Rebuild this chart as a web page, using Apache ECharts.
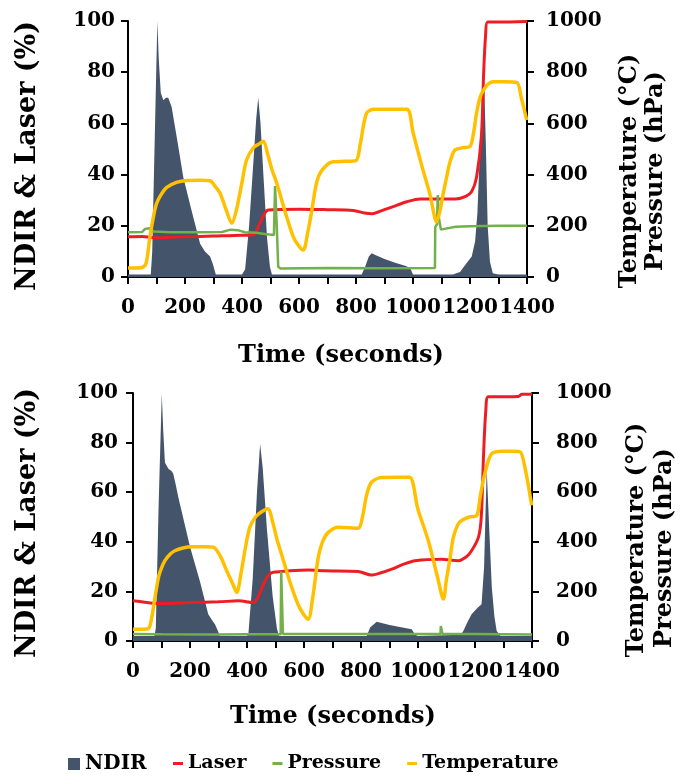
<!DOCTYPE html>
<html>
<head>
<meta charset="utf-8">
<script src="https://cdn.jsdelivr.net/npm/echarts@6/dist/echarts.min.js"></script>
<style>
html,body{margin:0;padding:0;background:#fff;}
#chart{width:686px;height:784px;}
</style>
</head>
<body>
<div id="chart"></div>
<script>
// ---------- data (time in seconds, value) ----------
const xTicks = [0, 200, 400, 600, 800, 1000, 1200, 1400];
const seriesNames = ['NDIR', 'Laser', 'Pressure', 'Temperature'];

// Top chart
const ndirTop = [[0,1],[50,1],[80,1],[85,10],[95,60],[103,100],[108,85],[115,72],[124,69],[133,70],[141,70],[153,66.5],[175,52],[194,39],[223,26],[253,13],[270,10],[288,8],[298,5],[308,1],[400,1],[411,3],[425,20],[440,45],[450,62],[457,70],[465,60],[475,40],[488,15],[498,4],[505,1],[820,1],[832,4],[845,8],[855,9.3],[870,8.5],[900,7],[940,5.5],[975,4.3],[990,3.5],[1000,1],[1140,1],[1165,2],[1185,5],[1206,8],[1218,14],[1226,25],[1235,50],[1244,72],[1250,75],[1256,50],[1262,20],[1270,6],[1280,1.5],[1300,1],[1400,1]];
const laserTop = [[0,15.7],[50,15.8],[100,15.3],[150,15.5],[200,15.7],[300,16],[400,16.3],[440,16.6],[463,21],[480,25],[492,26.2],[600,26.5],[700,26.3],[790,26],[830,25],[855,24.7],[880,25.5],[930,27.5],[978,29.4],[1025,30.5],[1100,30.5],[1150,30.5],[1185,31.5],[1206,33.4],[1223,39],[1240,55],[1248,80],[1255,95],[1262,99.6],[1300,99.6],[1400,99.8]];
const pressureTop = [[0,175],[50,176],[60,188],[75,190],[90,178],[150,175],[250,175],[330,176],[360,185],[385,183],[410,175],[450,173],[480,168],[512,164],[516,355],[522,200],[527,40],[535,33],[700,35],[900,34],[1077,35],[1078,195],[1084,205],[1087,320],[1091,230],[1098,185],[1110,188],[1150,196],[1200,198],[1300,200],[1400,200]];
const tempTop = [[0,35],[30,35],[55,40],[65,60],[77,157],[90,240],[100,286],[115,320],[136,350],[170,370],[206,377],[250,378],[288,376],[305,355],[323,327],[345,260],[364,210],[380,260],[400,370],[416,457],[440,505],[460,520],[475,530],[490,480],[505,420],[522,366],[550,260],[580,157],[600,120],[615,105],[630,170],[645,260],[660,360],[674,406],[700,440],[720,450],[760,452],[800,455],[815,520],[837,640],[862,655],[900,655],[978,655],[1000,565],[1030,438],[1060,320],[1083,216],[1095,260],[1105,320],[1118,390],[1130,450],[1147,496],[1175,505],[1200,510],[1212,560],[1223,640],[1235,700],[1247,730],[1265,755],[1282,763],[1320,763],[1364,760],[1380,700],[1399,613]];

// Bottom chart
const ndirBottom = [[0,2],[75,2],[80,5],[90,55],[101,99.6],[106,85],[112,72],[124,69.5],[135,68.5],[141,67.5],[150,63],[159,58],[200,38],[235,24],[264,10.8],[280,8],[288,6.7],[298,4],[305,2],[400,2],[405,3],[420,25],[435,60],[446,79.4],[455,70],[470,45],[490,18],[505,5],[512,2],[820,2],[832,5.4],[855,7.8],[900,6.5],[950,5.3],[978,4.7],[990,2.5],[1000,2],[1150,2.5],[1159,4],[1175,8],[1188,10.8],[1210,13.5],[1223,14.8],[1232,30],[1241,69.5],[1250,45],[1259,21.6],[1268,10],[1276,4],[1290,2],[1400,2]];
const laserBottom = [[0,16.2],[50,15.5],[100,15.1],[200,15.5],[300,15.8],[370,16.2],[422,15.5],[440,18],[463,24.3],[480,27],[492,27.7],[550,28.3],[615,28.6],[674,28.3],[790,28],[837,26.6],[870,27.5],[908,29],[950,31],[990,32.4],[1083,33],[1141,32.4],[1170,34],[1188,36.4],[1212,41.8],[1222,50],[1230,75],[1238,93],[1247,98.5],[1300,98.5],[1352,98.6],[1365,99.5],[1400,99.5]];
const pressureBottom = [[0,28],[100,27],[300,26],[400,27],[518,27],[520,280],[524,280],[526,28],[600,28],[800,28],[1079,28],[1080,60],[1084,60],[1086,28],[1200,28],[1400,26]];
const tempBottom = [[0,47],[30,47],[54,50],[65,90],[77,175],[90,260],[100,295],[112,324],[130,350],[147,364],[175,375],[206,380],[250,380],[282,378],[305,345],[330,280],[350,230],[364,196],[380,280],[395,380],[410,459],[430,500],[450,520],[473,533],[490,480],[505,410],[522,347],[550,240],[580,145],[600,105],[615,88],[630,170],[650,337],[665,400],[685,438],[720,459],[790,455],[805,500],[820,590],[837,640],[873,659],[930,660],[970,660],[1000,530],[1036,405],[1070,250],[1089,169],[1100,250],[1112,330],[1124,418],[1140,470],[1153,486],[1180,500],[1206,506],[1218,580],[1229,648],[1245,720],[1259,756],[1294,765],[1330,765],[1358,763],[1375,700],[1399,547]];

// ---------- styling ----------
const FONT = '"DejaVu Serif", "Liberation Serif", serif';
const colors = {NDIR:'#44546a', Laser:'#ee1d23', Pressure:'#72b04a', Temperature:'#ffc000'};
const plain = v => String(v);

function labelStyle(margin){
  return {color:'#000', fontFamily:FONT, fontWeight:'bold', fontSize:20, margin:margin,
          formatter:plain, showMinLabel:true, showMaxLabel:true, hideOverlap:false};
}
function xAxis(gi){
  return {
    type:'value', gridIndex:gi, min:0, max:1400, interval:200,
    axisLine:{show:true, lineStyle:{color:'#000', width:2}},
    axisTick:{show:true, length:7, lineStyle:{color:'#000', width:2}},
    minorTick:{show:true, splitNumber:2, length:7, lineStyle:{color:'#000', width:2}},
    splitLine:{show:false}, minorSplitLine:{show:false},
    axisLabel:labelStyle(21)
  };
}
function yAxisL(gi, margin){
  return {
    type:'value', gridIndex:gi, min:0, max:100, interval:20, position:'left',
    axisLine:{show:true, lineStyle:{color:'#000', width:2}},
    axisTick:{show:true, length:7, lineStyle:{color:'#000', width:2}},
    splitLine:{show:false},
    axisLabel:labelStyle(margin)
  };
}
function yAxisR(gi, margin){
  return {
    type:'value', gridIndex:gi, min:0, max:1000, interval:200, position:'right',
    axisLine:{show:true, lineStyle:{color:'#000', width:2}},
    axisTick:{show:true, length:7, lineStyle:{color:'#000', width:2}},
    splitLine:{show:false},
    axisLabel:labelStyle(margin)
  };
}
function makeSeries(gi, ndir, laser, pressure, temp){
  const yl = gi*2, yr = gi*2+1;
  return [
    {name:'NDIR', type:'line', xAxisIndex:gi, yAxisIndex:yl, data:ndir, showSymbol:false, symbol:'none',
     lineStyle:{width:0}, areaStyle:{color:colors.NDIR, opacity:1}, itemStyle:{color:colors.NDIR}, z:1},
    {name:'Laser', type:'line', xAxisIndex:gi, yAxisIndex:yl, data:laser, showSymbol:false, symbol:'none',
     smooth:0.3, lineStyle:{width:3, color:colors.Laser}, itemStyle:{color:colors.Laser}, z:2},
    {name:'Pressure', type:'line', xAxisIndex:gi, yAxisIndex:yr, data:pressure, showSymbol:false, symbol:'none',
     lineStyle:{width:2.5, color:colors.Pressure}, itemStyle:{color:colors.Pressure}, z:3},
    {name:'Temperature', type:'line', xAxisIndex:gi, yAxisIndex:yr, data:temp, showSymbol:false, symbol:'none',
     smooth:0.3, lineStyle:{width:3.5, color:colors.Temperature}, itemStyle:{color:colors.Temperature}, z:4}
  ];
}
function txt(x, y, text, size, rot){
  return {type:'text', x:x, y:y, rotation:rot||0, silent:true,
    style:{text:text, fill:'#000', fontFamily:FONT, fontWeight:'bold', fontSize:size,
           textAlign:'center', textVerticalAlign:'middle', verticalAlign:'middle'}};
}

const chart = echarts.init(document.getElementById('chart'), null, {renderer:'canvas'});
const R = Math.PI/2;
chart.setOption({
  backgroundColor:'#fff',
  animation:false,
  grid:[
    {left:128, width:399, top:21, height:256, containLabel:false, outerBoundsMode:'none'},
    {left:133, width:399, top:393, height:248, containLabel:false, outerBoundsMode:'none'}
  ],
  xAxis:[xAxis(0), xAxis(1)],
  yAxis:[yAxisL(0,13), yAxisR(0,19), yAxisL(1,15), yAxisR(1,24)],
  legend:[
    {data:['NDIR'], left:63, top:749, icon:'rect', itemWidth:12, itemHeight:12, itemGap:0,
     textStyle:{color:'#000', fontFamily:FONT, fontWeight:'bold', fontSize:20}},
    {data:['Laser','Pressure','Temperature'], left:168, top:749, icon:'rect', itemWidth:10, itemHeight:3, itemGap:26,
     textStyle:{color:'#000', fontFamily:FONT, fontWeight:'bold', fontSize:19}}
  ],
  graphic:[
    txt(28, 156, 'NDIR & Laser (%)', 27, R),
    txt(630, 171, 'Temperature (°C)', 24, R),
    txt(656, 171, 'Pressure (hPa)', 24, R),
    txt(341, 356, 'Time (seconds)', 24, 0),
    txt(28, 523, 'NDIR & Laser (%)', 27, R),
    txt(637, 540, 'Temperature (°C)', 24, R),
    txt(665, 548, 'Pressure (hPa)', 24, R),
    txt(333, 717, 'Time (seconds)', 24, 0)
  ],
  series:[].concat(
    makeSeries(0, ndirTop, laserTop, pressureTop, tempTop),
    makeSeries(1, ndirBottom, laserBottom, pressureBottom, tempBottom)
  )
});
</script>
</body>
</html>
